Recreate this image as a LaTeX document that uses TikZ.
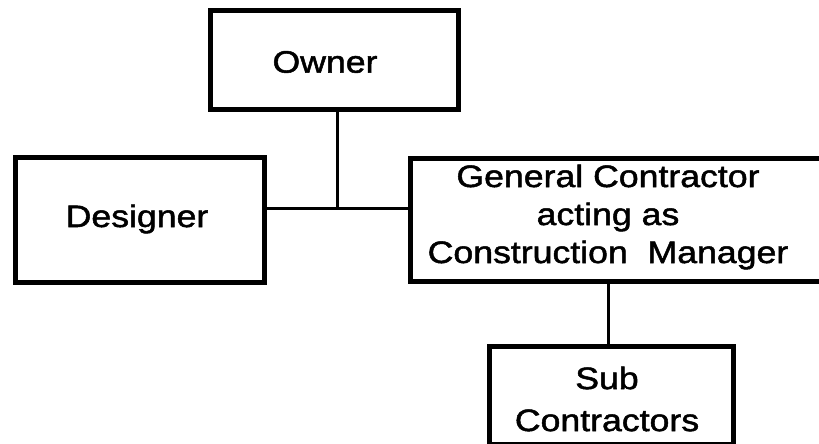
\documentclass[tikz,border=0pt]{standalone}
\usepackage{fontspec}
\setmainfont{Liberation Sans}[FakeStretch=1.15,FakeBold=1.6]
\begin{document}
\begin{tikzpicture}[x=1pt,y=-1pt,
  boxstyle/.style={draw=black, line width=5pt, fill=white, inner sep=0pt},
  link/.style={draw=black, line width=3pt},
  lbl/.style={font=\fontsize{31}{38}\selectfont, align=center, inner sep=0pt}]
\useasboundingbox (0,0) rectangle (819,444);
\clip (0,0) rectangle (819,444);
\fill[white] (0,0) rectangle (819,444);
% junctions
\coordinate (j) at (337,208);
\coordinate (k) at (608,300);
% boxes
\node[boxstyle, minimum width=248pt, minimum height=99pt] (owner) at (334.5,60) {};
\node[boxstyle, minimum width=249pt, minimum height=125pt] (designer) at (140,220) {};
\node[boxstyle, minimum width=420pt, minimum height=123pt] (gc) at (620.5,219.5) {};
\node[boxstyle, minimum width=244pt, minimum height=98pt] (sub) at (611.5,395.5) {};
% connectors
\draw[link] (owner.south -| j) -- (j);
\draw[link] (designer.east |- j) -- (gc.west |- j);
\draw[link] (gc.south -| k) -- (sub.north -| k);
% texts
\node[lbl] (ownertxt) at (325,62) {Owner};
\node[lbl] (designertxt) at (137,219) {Designer};
\node[lbl] (gctxt) at (608,217) {General Contractor\\acting as\\Construction\ \ Manager};
\node[lbl, font=\fontsize{31}{42}\selectfont] (subtxt) at (607,399) {Sub\\Contractors};
\end{tikzpicture}
\end{document}
